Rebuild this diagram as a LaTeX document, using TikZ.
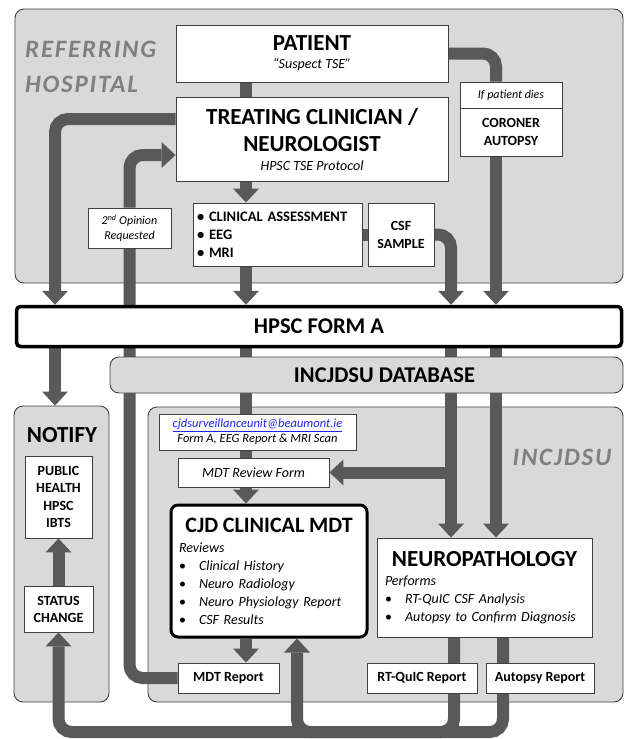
\documentclass[tikz,border=0pt]{standalone}
\usepackage{fontspec}
\setmainfont{Carlito}
\usetikzlibrary{arrows.meta}
\pgfdeclarelayer{zone}
\pgfdeclarelayer{flows}
\pgfsetlayers{zone,flows,main}
\definecolor{zonegray}{HTML}{D9D9D9}
\definecolor{flowgray}{HTML}{595959}
\definecolor{edgegray}{HTML}{404040}
\definecolor{labelgray}{HTML}{808080}
\definecolor{linkblue}{HTML}{2323F0}
\newcommand\hdfont{\fontsize{23}{27}\selectfont\bfseries}
\newcommand\smfont{\fontsize{14}{18}\selectfont}
\tikzset{
  grayzone/.style={draw=edgegray,fill=zonegray,line width=0.9pt,rounded corners=9pt},
  zonelabel/.style={text=labelgray,inner sep=0pt,font=\fontsize{25}{35}\selectfont\bfseries\itshape\addfontfeatures{LetterSpace=7}},
  whitebox/.style={draw=edgegray,fill=white,line width=0.9pt,inner sep=2pt,align=center,font=\smfont},
  boldbox/.style={draw=black,fill=white,line width=3pt,rounded corners=7pt,align=left,inner xsep=8pt,font=\smfont},
  formbox/.style={draw=black,fill=white,line width=3.5pt,rounded corners=4pt,font=\fontsize{22.5}{26}\selectfont\bfseries},
  joint/.style={draw=flowgray,line width=12pt,rounded corners=13pt},
  flow/.style={joint,->}
}
\begin{document}
\begin{tikzpicture}[x=1pt,y=-1pt,>={Triangle[width=26pt,length=14pt,line width=0pt]}]
\useasboundingbox (0,0) rectangle (625,739);
\coordinate (maincol) at (246,0);
\coordinate (leftcol) at (55,0);
\coordinate (csfcol) at (451,0);
\coordinate (corcol) at (496,0);
\coordinate (rtcol) at (454,0);
\coordinate (apcol) at (503,0);
\coordinate (mdtcol) at (297,0);
\coordinate (loop) at (0,732);

\begin{pgfonlayer}{zone}
\node[grayzone,minimum width=608pt,minimum height=274pt] (referring) at (319,146) {};
\node[zonelabel,anchor=west,align=left] (reflabel) at (25,67) {REFERRING\\HOSPITAL};
\node[grayzone,minimum width=95pt,minimum height=296pt] (notify) at (61.5,554) {};
\node[font=\hdfont] (notifylabel) at (62,435) {NOTIFY};
\node[grayzone,minimum width=475pt,minimum height=295pt] (incjdsu) at (385.5,554.5) {};
\node[zonelabel] (inclabel) at (562,457) {INCJDSU};
\end{pgfonlayer}

\node[whitebox,minimum width=272pt,minimum height=57pt] (patient) at (312,53.5)
  {{\hdfont PATIENT}\\[0pt]\textit{“Suspect TSE”}};
\node[whitebox,minimum width=272pt,minimum height=84pt] (treating) at (312,139)
  {{\hdfont TREATING CLINICIAN /}\\[9pt]{\hdfont NEUROLOGIST}\\[1pt]\textit{HPSC TSE Protocol}};
\node[whitebox,text width=161pt,align=left,inner xsep=4pt,minimum height=63pt,font=\fontsize{14.5}{18}\selectfont\bfseries] (clinical) at (277.5,234.5)
  {\textbullet\ CLINICAL ASSESSMENT\\\textbullet\ EEG\\\textbullet\ MRI};
\node[whitebox,minimum width=66pt,minimum height=63pt,font=\smfont\bfseries] (csf) at (401,234.5) {CSF\\SAMPLE};
\node[whitebox,minimum width=102pt,minimum height=26pt,font=\fontsize{12}{15}\selectfont\itshape] (dies) at (511,95) {If patient dies};
\node[whitebox,minimum width=102pt,minimum height=48pt,font=\smfont\bfseries] (coroner) at (511,132) {CORONER\\AUTOPSY};
\node[whitebox,minimum width=83pt,minimum height=40pt,font=\fontsize{12}{15}\selectfont\itshape] (opinion) at (129.5,228)
  {2\textsuperscript{nd} Opinion\\Requested};
\node[formbox,minimum width=605pt,minimum height=40pt] (hpsc) at (319,326.5) {HPSC FORM A};
\node[grayzone,minimum width=513pt,minimum height=36pt,
  label={[xshift=18pt,font=\fontsize{22.5}{26}\selectfont\bfseries]center:INCJDSU DATABASE}] (database) at (366.5,375) {};
\node[whitebox,minimum width=67pt,minimum height=82pt,font=\fontsize{14}{17.5}\selectfont\bfseries] (public) at (58.5,497)
  {PUBLIC\\HEALTH\\HPSC\\IBTS};
\node[whitebox,minimum width=69pt,minimum height=46pt,font=\fontsize{14}{17}\selectfont\bfseries] (status) at (58.5,609) {STATUS\\CHANGE};
\node[whitebox,minimum width=197pt,minimum height=36pt,font=\fontsize{12.5}{15}\selectfont\itshape] (email) at (257.5,432)
  {\textcolor{linkblue}{\underline{cjdsurveillanceunit@beaumont.ie}}\\Form A, EEG Report \& MRI Scan};
\node[whitebox,minimum width=151pt,minimum height=29pt,font=\smfont\itshape] (review) at (253.5,472.5) {MDT Review Form};
\node[boldbox,text width=180pt,minimum height=132pt] (mdt) at (269,571)
  {\makebox[\hsize]{\fontsize{22}{27}\selectfont\bfseries CJD CLINICAL MDT}\\[2pt]
   \textit{Reviews}\\
   \makebox[20pt][l]{\textbullet}\textit{Clinical History}\\
   \makebox[20pt][l]{\textbullet}\textit{Neuro Radiology}\\
   \makebox[20pt][l]{\textbullet}\textit{Neuro Physiology Report}\\
   \makebox[20pt][l]{\textbullet}\textit{CSF Results}};
\node[whitebox,minimum width=101pt,minimum height=30pt,font=\smfont\bfseries] (mdtreport) at (228.5,678) {MDT Report};
\node[whitebox,text width=199pt,align=left,inner xsep=8pt,minimum height=99pt] (neuro) at (484.5,587.5)
  {\makebox[\hsize]{\hdfont NEUROPATHOLOGY}\\[1pt]
   \textit{Performs}\\
   \makebox[20pt][l]{\textbullet}\textit{RT-QuIC CSF Analysis}\\
   \makebox[20pt][l]{\textbullet}\textit{Autopsy to Confirm Diagnosis}};
\node[whitebox,minimum width=110pt,minimum height=30pt,font=\smfont\bfseries] (rtquic) at (422,678) {RT-QuIC Report};
\node[whitebox,minimum width=108pt,minimum height=30pt,font=\smfont\bfseries] (autopsy) at (540,678) {Autopsy Report};

\begin{pgfonlayer}{flows}
\draw[joint] (maincol |- patient.south) -- (maincol |- treating.north);
\draw[flow] (maincol |- treating.south) -- (maincol |- clinical.north);
\draw[flow] (maincol |- clinical.south) -- (maincol |- hpsc.north);
\draw[flow] (maincol |- hpsc.south) -- (maincol |- mdt.north);
\draw[flow] (maincol |- mdt.south) -- (maincol |- mdtreport.north);
\draw[joint] (clinical.east) -- (csf.west);
\draw[flow] (csf.east) -| (csfcol |- hpsc.north);
\draw[joint] (patient.east) -| (corcol |- dies.north);
\draw[flow] (corcol |- coroner.south) -- (corcol |- hpsc.north);
\draw[flow] ([yshift=20pt]treating.west) -| (leftcol |- hpsc.north);
\draw[flow] (leftcol |- hpsc.south) -- (leftcol |- notify.north);
\draw[flow] (csfcol |- hpsc.south) -- (csfcol |- neuro.north);
\draw[flow] (corcol |- hpsc.south) -- (corcol |- neuro.north);
\draw[flow] (csfcol |- review.east) -- (review.east);
\draw[flow] (mdtreport.west) -| (opinion) |- ([yshift=-16pt]treating.west);
\draw[flow] (status.north) -- (public.south);
\draw[flow] (apcol |- neuro.south) |- (status |- loop) -- (status.south);
\draw[flow] (rtcol |- neuro.south) |- (mdtcol |- loop) -- (mdtcol |- mdt.south);
\end{pgfonlayer}
\end{tikzpicture}
\end{document}
